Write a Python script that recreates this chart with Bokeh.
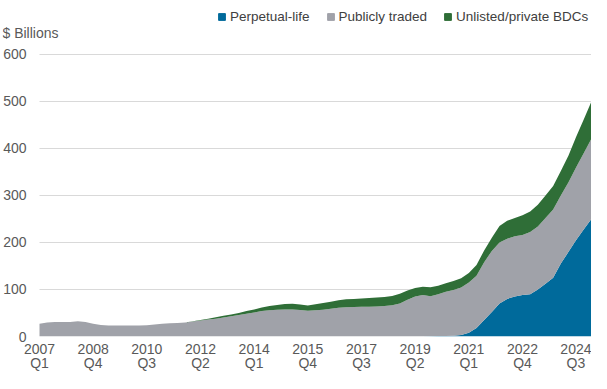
from bokeh.plotting import figure
from bokeh.models import Range1d, FixedTicker, Legend, LegendItem, ColumnDataSource, Label
from bokeh.embed import file_html
from bokeh.resources import INLINE

# Quarterly data, 2007 Q1 .. 2025 Q1 ($ Billions)
perpetual = [0, 0, 0, 0, 0, 0, 0, 0, 0, 0,
             0, 0, 0, 0, 0, 0, 0, 0, 0, 0,
             0, 0, 0, 0, 0, 0, 0, 0, 0, 0,
             0, 0, 0, 0, 0, 0, 0, 0, 0, 0,
             0, 0, 0, 0, 0, 0, 0, 0, 0, 0,
             0, 0.5, 1, 1, 1.5, 3, 8, 18, 35, 52,
             70, 80, 85, 88, 90, 100, 112, 125, 155, 180,
             205, 228, 250]
publicly = [27, 30, 31, 31, 31, 32.5, 31, 27, 24.5, 23.5,
            23.5, 23.5, 23.5, 23.5, 24, 25.5, 27, 28, 28.5, 30,
            32, 34, 36, 38, 40.5, 43, 45.5, 48.5, 51, 54,
            56, 57, 57.5, 57.5, 56.5, 55, 56, 57, 59, 61,
            62, 62.5, 63, 63.5, 64, 65, 66.5, 70, 78, 85,
            88, 85, 89, 94, 97.5, 101, 107, 111, 123, 130,
            130, 128, 128, 128, 132, 134, 140, 145, 145, 148,
            155, 162, 171]
private = [0, 0, 0, 0, 0, 0, 0, 0, 0, 0,
           0, 0, 0, 0, 0, 0, 0, 0, 0, 0,
           0.5, 1, 2, 3, 3.5, 4, 4.5, 5.5, 6.5, 7.5,
           9, 10, 11.5, 12, 11.5, 11, 12.5, 14, 15, 16,
           17, 17.5, 18, 18.5, 19, 19, 19.5, 21, 20, 18,
           18, 19, 18, 18, 19, 20, 20, 23, 25, 28,
           35, 38, 39, 42, 44, 46, 48, 50, 52, 57,
           65, 72, 79]

series_names = ["Perpetual-life", "Publicly traded", "Unlisted/private BDCs"]
colors = ["#006a9b", "#a0a2a9", "#2f6e37"]
tick_positions = [0, 7, 14, 21, 28, 35, 42, 49, 56, 63, 70]
tick_labels = ["2007\nQ1", "2008\nQ4", "2010\nQ3", "2012\nQ2", "2014\nQ1", "2015\nQ4",
               "2017\nQ3", "2019\nQ2", "2021\nQ1", "2022\nQ4", "2024\nQ3"]
y_ticks = [0, 100, 200, 300, 400, 500, 600]
y_max = 600

idx = list(range(len(perpetual)))
source = ColumnDataSource(dict(idx=idx, perpetual=perpetual, publicly=publicly, private=private))

FONT = "Liberation Sans"
AX_COLOR = "#595959"
GRID = "#d9d9d9"

# ---- layout (canvas pixels) ----
W, H = 591, 373
FRAME_LEFT = 2          # frame starts near the canvas edge so texts inside it are not clipped
DATA_LEFT = 39          # where the first quarter sits
PLOT_TOP = 54           # pixel row of the 600 gridline
PLOT_BOTTOM = 337       # pixel row of the 0 gridline
n_last = len(idx) - 1
px_x = (W - DATA_LEFT) / n_last
px_y = (PLOT_BOTTOM - PLOT_TOP) / y_max
x_start = -(DATA_LEFT - FRAME_LEFT) / px_x
y_end = y_max + PLOT_TOP / px_y

p = figure(width=W, height=H, output_backend="svg", toolbar_location=None,
           x_range=Range1d(x_start, n_last), y_range=Range1d(0, y_end),
           min_border_left=FRAME_LEFT, min_border_right=0, min_border_top=0,
           min_border_bottom=H - PLOT_BOTTOM)
p.outline_line_color = None
p.background_fill_color = "white"
p.title.visible = False

p.varea_stack(stackers=["perpetual", "publicly", "private"], x="idx", color=colors, source=source)

# y axis (labels drawn inside the wide frame, right-aligned at x=26)
p.yaxis.ticker = FixedTicker(ticks=y_ticks)
p.yaxis.axis_line_color = None
p.yaxis.major_tick_line_color = None
p.yaxis.minor_tick_line_color = None
p.yaxis.major_tick_out = 0
p.yaxis.major_tick_in = 0
p.yaxis.minor_tick_out = 0
p.yaxis.minor_tick_in = 0
p.yaxis.major_label_standoff = -24
p.yaxis.major_label_text_font = FONT
p.yaxis.major_label_text_font_size = "14px"
p.yaxis.major_label_text_color = AX_COLOR

# x axis
p.xaxis.ticker = FixedTicker(ticks=tick_positions)
p.xaxis.major_label_overrides = {t: l for t, l in zip(tick_positions, tick_labels)}
p.xaxis.axis_line_color = None
p.xaxis.major_tick_line_color = None
p.xaxis.minor_tick_line_color = None
p.xaxis.major_tick_out = 0
p.xaxis.major_tick_in = 0
p.xaxis.minor_tick_out = 0
p.xaxis.minor_tick_in = 0
p.xaxis.major_label_standoff = 4
p.xaxis.major_label_text_font = FONT
p.xaxis.major_label_text_font_size = "14px"
p.xaxis.major_label_text_color = AX_COLOR
p.xaxis.major_label_text_line_height = 0.9

p.xgrid.grid_line_color = None
p.ygrid.ticker = FixedTicker(ticks=y_ticks)
p.ygrid.grid_line_color = GRID
p.ygrid.grid_line_width = 1
try:
    p.ygrid.cross_bounds = (0, n_last)
except Exception:
    pass

# unit label
unit_label = Label(x=x_start, y=y_max + (PLOT_TOP - 33) / px_y, text="$ Billions",
                   text_font=FONT, text_font_size="14px", text_color=AX_COLOR,
                   text_align="left", text_baseline="alphabetic")
p.add_layout(unit_label)

# legend: square swatches from marker renderers that hold no drawable point
nan = float("nan")
leg_renderers = [p.scatter(x=[nan], y=[nan], marker="square", size=7, color=c) for c in colors]
legend = Legend(items=[LegendItem(label=n, renderers=[r]) for n, r in zip(series_names, leg_renderers)],
                location=(211, 311), orientation="horizontal",
                glyph_width=17, glyph_height=17, label_standoff=-1, spacing=12,
                padding=0, margin=0, border_line_color=None, background_fill_alpha=0,
                label_text_font=FONT, label_text_font_size="13.5px", label_text_color="#404040")
p.add_layout(legend)

open("out.html", "w").write(file_html(p, INLINE))
